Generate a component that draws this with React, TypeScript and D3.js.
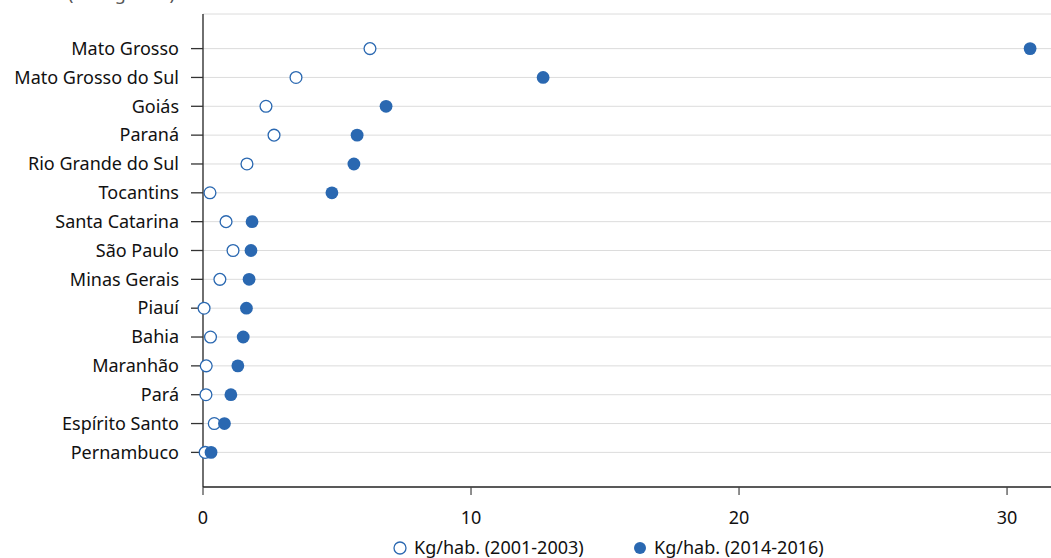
import React from 'react'
import { scaleLinear, scalePoint } from 'd3'

const states = [
  'Mato Grosso', 'Mato Grosso do Sul', 'Goiás', 'Paraná', 'Rio Grande do Sul', 'Tocantins',
  'Santa Catarina', 'São Paulo', 'Minas Gerais', 'Piauí', 'Bahia', 'Maranhão', 'Pará',
  'Espírito Santo', 'Pernambuco',
]
const kg2001 = [6.23, 3.47, 2.35, 2.65, 1.64, 0.26, 0.86, 1.12, 0.63, 0.04, 0.28, 0.12, 0.11, 0.42, 0.08]
const kg2014 = [30.86, 12.69, 6.83, 5.75, 5.63, 4.81, 1.83, 1.79, 1.72, 1.62, 1.5, 1.3, 1.04, 0.8, 0.3]
const xTicks = [0, 10, 20, 30]
const seriesNames = ['Kg/hab. (2001-2003)', 'Kg/hab. (2014-2016)']

const W = 1051
const H = 558
const blue = '#2a68b1'
const font = '"Noto Sans", sans-serif'
const fs = 18

const App = () => {
  const m = { top: 14, bottom: 71, left: 203, right: 0 }
  const x = scaleLinear().domain([0, 31.64]).range([m.left, W - m.right])
  const y = scalePoint().domain(states).range([m.top, H - m.bottom]).padding(1.2)
  const axisY = H - m.bottom

  return (
    <svg width={W} height={H} style={{ position: 'absolute', left: 0, top: 0 }} fontFamily={font}>
      <text x={68} y={0} fontSize={fs} fill='#555'>(em kg/hab.)</text>

      {/* grid */}
      <line x1={m.left} x2={W} y1={m.top} y2={m.top} stroke='#dcdcdc' />
      {states.map(s => (
        <line key={`g-${s}`} x1={m.left} x2={W} y1={y(s)} y2={y(s)} stroke='#dcdcdc' />
      ))}

      {/* y axis */}
      <line x1={m.left} x2={m.left} y1={m.top} y2={axisY} stroke='#222' strokeWidth={1.3} />
      {states.map(s => (
        <g key={`t-${s}`} transform={`translate(0, ${y(s)})`}>
          <line x1={m.left - 12} x2={m.left} stroke='#333' strokeWidth={1.3} />
          <text x={m.left - 24} dy='0.35em' textAnchor='end' fontSize={fs} fill='#111'>{s}</text>
        </g>
      ))}

      {/* x axis */}
      <line x1={m.left} x2={W} y1={axisY} y2={axisY} stroke='#222' strokeWidth={1.3} />
      {xTicks.map(t => (
        <g key={`x-${t}`} transform={`translate(${x(t)}, ${axisY})`}>
          <line y2={8} stroke='#444' strokeWidth={1.2} />
          <text y={37} textAnchor='middle' fontSize={fs} fill='#111'>{t}</text>
        </g>
      ))}

      {/* dots */}
      {states.map((s, i) => (
        <g key={`d-${s}`}>
          <circle cx={x(kg2001[i])} cy={y(s)} r={5.9} fill='white' stroke={blue} strokeWidth={1.3} />
          <circle cx={x(kg2014[i])} cy={y(s)} r={6.4} fill={blue} />
        </g>
      ))}

      {/* legend */}
      <g transform='translate(400, 548)'>
        <circle r={6} fill='white' stroke={blue} strokeWidth={1.3} />
        <text x={14} dy='0.35em' fontSize={fs} fill='#111'>{seriesNames[0]}</text>
        <circle cx={240} r={6} fill={blue} />
        <text x={254} dy='0.35em' fontSize={fs} fill='#111'>{seriesNames[1]}</text>
      </g>
    </svg>
  )
}

export default App
